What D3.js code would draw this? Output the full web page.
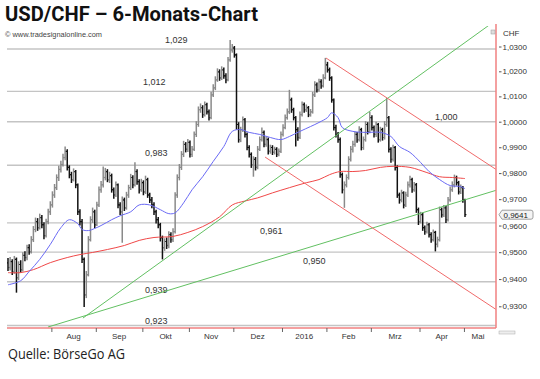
<!DOCTYPE html>
<html><head><meta charset="utf-8">
<script src="https://cdn.jsdelivr.net/npm/d3@7"></script>
<style>body{margin:0;background:#fff}svg{display:block}</style>
</head><body>
<svg id="c" width="540" height="379"></svg>
<script>
// ---------- DATA (daily USD/CHF bars) ----------
const opens = [
.9460,.9443,.9465,.9428,.9473,.9405,.9454,.9435,.9488,.9480,
.9517,.9502,.9547,.9585,.9615,.9592,.9630,.9603,.9562,.9615,
.9652,.9678,.9716,.9744,.9783,.9814,.9833,.9860,.9884,.9822,
.9794,.9775,.9806,.9755,.9652,.9615,.9473,.9342,.9416,.9547,
.9622,.9652,.9603,.9678,.9736,.9755,.9783,.9806,.9775,.9790,
.9736,.9716,.9755,.9678,.9652,.9697,.9667,.9716,.9744,.9783,
.9755,.9806,.9767,.9736,.9763,.9728,.9775,.9716,.9697,.9678,
.9652,.9622,.9603,.9554,.9517,.9540,.9525,.9566,.9547,.9577,
.9716,.9783,.9822,.9872,.9911,.9892,.9919,.9872,.9892,.9950,
.9989,1.0047,1.0055,1.0028,1.0067,1.0039,1.0016,1.0106,1.0134,1.0166,
1.0198,1.0174,1.0206,1.0182,1.0166,1.0246,1.0286,1.0294,1.0266,.9989,
.9930,.9969,1.0008,.9950,.9899,.9872,.9833,.9853,.9822,.9892,
.9930,.9958,.9911,.9930,.9884,.9899,.9880,.9892,.9872,.9884,
.9950,.9977,1.0016,1.0039,1.0086,1.0047,1.0016,.9969,.9938,1.0028,
1.0067,1.0047,1.0055,1.0028,1.0039,1.0106,1.0146,1.0126,1.0158,1.0142,
1.0174,1.0226,1.0206,1.0174,1.0086,.9977,.9950,.9930,.9794,.9736,
.9755,.9783,.9853,.9892,.9911,.9950,.9930,.9969,.9899,.9930,
.9989,.9961,1.0016,.9977,.9950,.9989,.9930,.9969,.9938,.9989,
1.0016,.9892,.9853,.9899,.9822,.9716,.9697,.9724,.9678,.9716,
.9755,.9775,.9736,.9755,.9660,.9615,.9641,.9592,.9577,.9603,
.9566,.9547,.9574,.9529,.9547,.9660,.9641,.9667,.9622,.9697,
.9736,.9755,.9783,.9763,.9728,.9744,.9697];
const highs = [
.9478,.9482,.9474,.9486,.9480,.9466,.9470,.9500,.9503,.9528,
.9530,.9560,.9598,.9630,.9628,.9645,.9640,.9612,.9626,.9664,
.9692,.9730,.9758,.9795,.9828,.9848,.9875,.9903,.9892,.9830,
.9805,.9818,.9812,.9760,.9662,.9625,.9480,.9430,.9560,.9635,
.9668,.9660,.9690,.9748,.9770,.9825,.9820,.9815,.9805,.9798,
.9745,.9768,.9760,.9688,.9710,.9706,.9728,.9755,.9797,.9792,
.9842,.9815,.9776,.9778,.9772,.9790,.9782,.9725,.9708,.9688,
.9660,.9632,.9610,.9562,.9552,.9555,.9578,.9575,.9590,.9726,
.9795,.9835,.9885,.9925,.9920,.9932,.9926,.9905,.9962,1.0002,
1.0060,1.0072,1.0065,1.0080,1.0075,1.0048,1.0118,1.0148,1.0180,1.0212,
1.0208,1.0220,1.0215,1.0192,1.0258,1.0326,1.0310,1.0302,1.0272,.9998,
.9980,1.0020,1.0015,.9958,.9908,.9880,.9865,.9862,.9905,.9942,
.9977,.9965,.9942,.9938,.9910,.9908,.9902,.9900,.9895,.9962,
.9990,1.0028,1.0052,1.0126,1.0095,1.0055,1.0022,.9978,1.0040,1.0080,
1.0076,1.0068,1.0062,1.0050,1.0118,1.0160,1.0155,1.0170,1.0168,1.0188,
1.0254,1.0238,1.0215,1.0180,1.0092,.9988,.9960,.9938,.9802,.9768,
.9795,.9865,.9905,.9925,.9962,.9960,.9982,.9976,.9942,1.0002,
.9998,1.0039,1.0025,.9985,1.0000,.9995,.9980,.9976,1.0002,1.0094,
1.0022,.9900,.9910,.9905,.9830,.9725,.9736,.9730,.9728,.9768,
.9790,.9782,.9766,.9762,.9668,.9652,.9648,.9600,.9614,.9610,
.9575,.9585,.9580,.9558,.9672,.9668,.9678,.9674,.9708,.9748,
.9768,.9794,.9790,.9770,.9756,.9750,.9702];
const lows = [
.9430,.9432,.9415,.9420,.9350,.9396,.9424,.9428,.9466,.9470,
.9490,.9495,.9538,.9575,.9580,.9585,.9590,.9548,.9555,.9605,
.9640,.9668,.9705,.9735,.9770,.9802,.9825,.9850,.9810,.9780,
.9762,.9768,.9742,.9640,.9600,.9460,.9297,.9330,.9410,.9540,
.9610,.9590,.9598,.9670,.9725,.9745,.9772,.9765,.9762,.9725,
.9702,.9708,.9665,.9640,.9535,.9655,.9660,.9705,.9735,.9742,
.9748,.9755,.9722,.9728,.9715,.9720,.9705,.9685,.9665,.9640,
.9608,.9590,.9540,.9473,.9505,.9512,.9515,.9535,.9538,.9570,
.9705,.9772,.9812,.9862,.9880,.9882,.9860,.9862,.9885,.9940,
.9980,1.0035,1.0015,1.0020,1.0028,1.0005,1.0010,1.0098,1.0125,1.0158,
1.0162,1.0165,1.0170,1.0152,1.0160,1.0238,1.0275,1.0255,.9969,.9918,
.9920,.9960,.9938,.9888,.9860,.9820,.9786,.9810,.9815,.9885,
.9922,.9900,.9902,.9872,.9875,.9870,.9872,.9862,.9865,.9878,
.9942,.9970,1.0008,1.0030,1.0035,1.0005,.9903,.9925,.9932,1.0020,
1.0035,1.0038,1.0018,1.0020,1.0032,1.0098,1.0115,1.0118,1.0130,1.0135,
1.0168,1.0195,1.0162,1.0075,.9965,.9938,.9918,.9782,.9722,.9667,
.9745,.9775,.9845,.9880,.9902,.9918,.9922,.9888,.9890,.9922,
.9950,.9955,.9965,.9938,.9940,.9918,.9922,.9926,.9930,.9980,
.9880,.9840,.9845,.9810,.9705,.9683,.9688,.9665,.9670,.9708,
.9745,.9725,.9728,.9648,.9602,.9608,.9580,.9565,.9570,.9555,
.9535,.9540,.9503,.9518,.9540,.9630,.9632,.9610,.9615,.9690,
.9728,.9745,.9752,.9718,.9720,.9686,.9632];
const closes = [
.9443,.9465,.9428,.9473,.9405,.9454,.9435,.9488,.9480,.9517,
.9502,.9547,.9585,.9615,.9592,.9630,.9603,.9562,.9615,.9652,
.9678,.9716,.9744,.9783,.9814,.9833,.9860,.9884,.9822,.9794,
.9775,.9806,.9755,.9652,.9615,.9473,.9342,.9416,.9547,.9622,
.9652,.9603,.9678,.9736,.9755,.9783,.9806,.9775,.9790,.9736,
.9716,.9755,.9678,.9652,.9697,.9667,.9716,.9744,.9783,.9755,
.9806,.9767,.9736,.9763,.9728,.9775,.9716,.9697,.9678,.9652,
.9622,.9603,.9554,.9517,.9540,.9525,.9566,.9547,.9577,.9716,
.9783,.9822,.9872,.9911,.9892,.9919,.9872,.9892,.9950,.9989,
1.0047,1.0055,1.0028,1.0067,1.0039,1.0016,1.0106,1.0134,1.0166,1.0198,
1.0174,1.0206,1.0182,1.0166,1.0246,1.0286,1.0294,1.0266,.9989,.9930,
.9969,1.0008,.9950,.9899,.9872,.9833,.9853,.9822,.9892,.9930,
.9958,.9911,.9930,.9884,.9899,.9880,.9892,.9872,.9884,.9950,
.9977,1.0016,1.0039,1.0086,1.0047,1.0016,.9969,.9938,1.0028,1.0067,
1.0047,1.0055,1.0028,1.0039,1.0106,1.0146,1.0126,1.0158,1.0142,1.0174,
1.0226,1.0206,1.0174,1.0086,.9977,.9950,.9930,.9794,.9736,.9755,
.9783,.9853,.9892,.9911,.9950,.9930,.9969,.9899,.9930,.9989,
.9961,1.0016,.9977,.9950,.9989,.9930,.9969,.9938,.9989,1.0016,
.9892,.9853,.9899,.9822,.9716,.9697,.9724,.9678,.9716,.9755,
.9775,.9736,.9755,.9660,.9615,.9641,.9592,.9577,.9603,.9566,
.9547,.9574,.9529,.9547,.9660,.9641,.9667,.9622,.9697,.9736,
.9755,.9783,.9763,.9728,.9744,.9697,.9641];

// moving averages (bar index, value)
const blueMaIdx = [0,6,10,15,20,25,29,33,35,38,41,44,49,53,58,62,67,72,76,79,83,87,92,97,102,106,110,114,119,124,129,133,138,143,147,151,153,156,158,163,169,176,181,185,190,195,199,204,209,214,216];
const blueMaVal = [.9379,.9394,.9428,.9473,.9529,.9592,.9622,.9607,.9585,.9581,.9589,.9600,.9622,.9637,.9652,.9678,.9678,.9660,.9645,.9648,.9686,.9736,.9786,.9845,.9903,.9962,.9969,.9958,.9950,.9938,.9930,.9942,.9962,.9981,.9997,1.0016,1.0035,1.0016,.9977,.9962,.9958,.9958,.9942,.9903,.9880,.9841,.9806,.9775,.9752,.9748,.9740];
const redMaIdx = [0,6,12,20,28,34,40,47,55,62,69,78,85,92,100,106,112,118,125,133,141,147,152,157,163,169,176,182,190,198,204,210,216];
const redMaVal = [.9424,.9424,.9435,.9461,.9480,.9491,.9499,.9510,.9525,.9544,.9555,.9559,.9574,.9596,.9633,.9678,.9693,.9705,.9724,.9744,.9763,.9775,.9794,.9806,.9806,.9810,.9822,.9826,.9822,.9802,.9786,.9783,.9779];

// trend lines: [startIdx, startPrice, endIdx, endPrice]
const greenLines = [[35.4,0.9257,231.1,1.0410],[18.9,0.92245,231.1,0.97349]];
const redLines = [[150.3,1.02535,231.1,0.98118],[121.5,0.98619,231.1,0.92863]];

// horizontal levels
const levels = [1.029,1.012,1.000,0.983,0.961,0.950,0.939,0.923];
const priceTicks = [0.93,0.94,0.95,0.96,0.97,0.98,0.99,1.00,1.01,1.02,1.03];
const monthStartIdx = [20.5,41.5,63.5,85.5,106.5,129.5,150.5,171.5,194.5,215.5];
const monthLabels = ["Aug","Sep","Okt","Nov","Dez","2016","Feb","Mrz","Apr","Mai"];
const lastPrice = 0.9641;

// ---------- DRAW ----------
const svg = d3.select("#c");
const P = {left:7, right:496, top:26, bottom:328};
const x = d3.scaleLinear().domain([0, closes.length-1]).range([8, 465]);
const y = d3.scaleLog().domain([0.93, 1.03]).range([306.3, 46.5]);
const fmt = (d,n)=>d.toFixed(n).replace('.',',');
const font = "'Liberation Sans', Arial, sans-serif";

svg.append("defs").append("clipPath").attr("id","pc")
  .append("rect").attr("x",P.left).attr("y",P.top).attr("width",P.right-P.left).attr("height",P.bottom-P.top);

// title & texts
svg.append("text").attr("x",5).attr("y",20.5)
  .attr("font-family","Roboto, 'Open Sans', sans-serif").attr("font-weight","bold").attr("font-size",21)
  .attr("textLength",253).attr("lengthAdjust","spacingAndGlyphs").attr("fill","#111")
  .text("USD/CHF – 6-Monats-Chart");
svg.append("text").attr("x",5).attr("y",36.5).attr("font-family",font).attr("font-size",8)
  .attr("fill","#444").attr("textLength",97).attr("lengthAdjust","spacingAndGlyphs")
  .text("© www.tradesignalonline.com");
svg.append("text").attr("x",8).attr("y",359).attr("font-family","'Open Sans', Roboto, sans-serif")
  .attr("font-size",14.5).attr("fill","#222").attr("textLength",117).attr("lengthAdjust","spacingAndGlyphs")
  .text("Quelle: BörseGo AG");

// level lines
const gl = svg.append("g");
gl.selectAll("line").data(levels).join("line")
  .attr("x1",P.left).attr("x2",P.right).attr("y1",d=>y(d)).attr("y2",d=>y(d))
  .attr("stroke","#c4c4c4").attr("stroke-width",1.4);
const labelPos = [[165,-6],[143,-6],[435,-1.5],[145,-9],[260,11],[303,12],[145,11],[145,-1.5]];
gl.selectAll("text").data(levels).join("text")
  .attr("x",(d,i)=>labelPos[i][0]).attr("y",(d,i)=>y(d)+labelPos[i][1])
  .attr("font-family",font).attr("font-size",9).attr("fill","#333").text(d=>fmt(d,3));

// bars
const gb = svg.append("g").attr("clip-path","url(#pc)");
closes.forEach((c,i)=>{
  const col = c < opens[i] ? "#111" : "#8a8a8a";
  const xi = x(i);
  gb.append("line").attr("x1",xi).attr("x2",xi).attr("y1",y(highs[i])).attr("y2",y(lows[i]))
    .attr("stroke",col).attr("stroke-width",1.5);
  gb.append("line").attr("x1",xi-1.4).attr("x2",xi).attr("y1",y(opens[i])).attr("y2",y(opens[i]))
    .attr("stroke",col).attr("stroke-width",1.2);
  gb.append("line").attr("x1",xi).attr("x2",xi+1.4).attr("y1",y(c)).attr("y2",y(c))
    .attr("stroke",col).attr("stroke-width",1.2);
});

// moving averages
const ma = d3.line().x(d=>x(d[0])).y(d=>y(d[1])).curve(d3.curveCatmullRom);
svg.append("path").attr("d",ma(redMaIdx.map((d,i)=>[d,redMaVal[i]])))
  .attr("fill","none").attr("stroke","#f04848").attr("stroke-width",1);
svg.append("path").attr("d",ma(blueMaIdx.map((d,i)=>[d,blueMaVal[i]])))
  .attr("fill","none").attr("stroke","#6a6af5").attr("stroke-width",1);

// trend lines
const gt = svg.append("g").attr("clip-path","url(#pc)");
gt.selectAll(".g").data(greenLines).join("line")
  .attr("x1",d=>x(d[0])).attr("y1",d=>y(d[1])).attr("x2",d=>x(d[2])).attr("y2",d=>y(d[3]))
  .attr("stroke","#62c062").attr("stroke-width",1);
gt.selectAll(".r").data(redLines).join("line")
  .attr("x1",d=>x(d[0])).attr("y1",d=>y(d[1])).attr("x2",d=>x(d[2])).attr("y2",d=>y(d[3]))
  .attr("stroke","#f06a6a").attr("stroke-width",1);

// frame (bottom + right, red)
svg.append("line").attr("x1",P.left).attr("x2",P.right).attr("y1",P.bottom).attr("y2",P.bottom)
  .attr("stroke","#f08080").attr("stroke-width",1.5);
svg.append("line").attr("x1",P.right).attr("x2",P.right).attr("y1",P.top-2).attr("y2",P.bottom)
  .attr("stroke","#f08080").attr("stroke-width",1.5);

// right axis
const ya = svg.append("g").attr("transform",`translate(${P.right+3},0)`)
  .call(d3.axisRight(y).tickValues(priceTicks).tickSize(2.5).tickPadding(1).tickFormat(d=>fmt(d,4)));
ya.select(".domain").remove();
ya.selectAll("line").attr("stroke","#555");
ya.selectAll("text").attr("font-family",font).attr("font-size",8).attr("fill","#333");
svg.append("text").attr("x",503).attr("y",36).attr("font-family",font).attr("font-size",8)
  .attr("fill","#333").text("CHF");
svg.append("rect").attr("x",491).attr("y",30).attr("width",4).attr("height",4)
  .attr("fill","#ddd").attr("stroke","#999").attr("stroke-width",0.5);

// last price callout
const ly = y(lastPrice);
svg.append("path")
  .attr("d",`M499,${ly} L502,${ly-4.5} H531 Q533,${ly-4.5} 533,${ly-2.5} V${ly+2.5} Q533,${ly+4.5} 531,${ly+4.5} H502 Z`)
  .attr("fill","#f4f4f4").attr("stroke","#888").attr("stroke-width",0.8);
svg.append("text").attr("x",503.5).attr("y",ly+3).attr("font-family",font).attr("font-size",8)
  .attr("fill","#222").text(fmt(lastPrice,4));

// bottom axis
const xa = svg.append("g").attr("transform",`translate(0,${P.bottom})`)
  .call(d3.axisBottom(x).tickValues(monthStartIdx).tickSize(4).tickFormat(""));
xa.select(".domain").remove();
xa.selectAll("line").attr("stroke","#666");
const tickPx = monthStartIdx.map(x);
svg.append("g").selectAll("text").data(monthLabels).join("text")
  .attr("x",(d,i)=> i < tickPx.length-1 ? (tickPx[i]+tickPx[i+1])/2 : (tickPx[i]+492)/2)
  .attr("y",339).attr("text-anchor","middle").attr("font-family",font).attr("font-size",8)
  .attr("fill","#333").text(d=>d);
svg.append("rect").attr("x",499).attr("y",331).attr("width",16).attr("height",3)
  .attr("fill","#eee").attr("stroke","#aaa").attr("stroke-width",0.5);
</script>
</body></html>
